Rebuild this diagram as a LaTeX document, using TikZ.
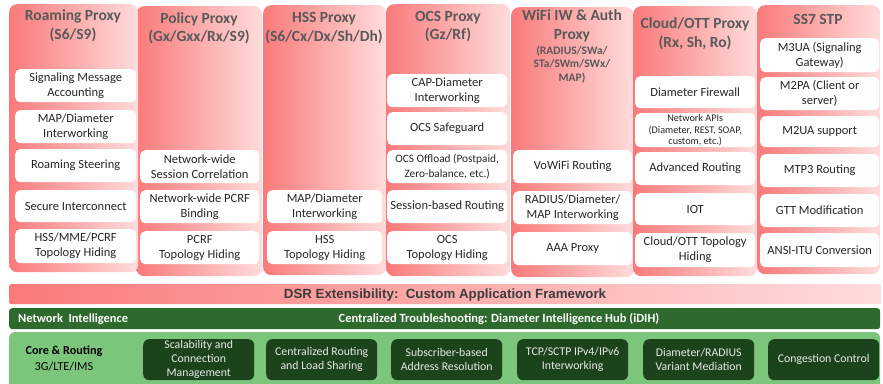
\documentclass[tikz,border=0pt]{standalone}
\usepackage{fontspec}
\setmainfont{Carlito}
\newfontfamily\arialfont{Liberation Sans}
\definecolor{colL}{RGB}{250,122,122}
\definecolor{colR}{RGB}{255,220,220}
\definecolor{titlegray}{RGB}{89,89,89}
\definecolor{boxtxt}{RGB}{38,38,38}
\definecolor{nigreen}{RGB}{46,106,46}
\definecolor{coregreen}{RGB}{124,198,124}
\definecolor{darkbox}{RGB}{28,68,28}
\definecolor{darkboxtxt}{RGB}{232,232,232}
\tikzset{
  colbox/.style={rounded corners=8pt, left color=colL, right color=colR, draw=none, inner sep=0pt, anchor=north west},
  wbox/.style={fill=white, draw=none, rounded corners=5pt, anchor=north west, align=center, inner sep=0pt,
    font=\fontsize{12.5}{15}\selectfont, text=boxtxt},
  ttl/.style={font=\bfseries\fontsize{15.5}{18.5}\selectfont, text=titlegray, align=center, inner sep=0pt},
  subttl/.style={font=\bfseries\fontsize{11.5}{13.5}\selectfont, text=titlegray, align=center, inner sep=0pt},
  dbox/.style={fill=darkbox, draw=none, rounded corners=6pt, anchor=north west, align=center, inner sep=0pt,
    minimum width=111pt, minimum height=41pt, font=\fontsize{11.8}{14}\selectfont, text=darkboxtxt},
}
\newcommand\colnode[5]{\node[colbox, minimum width=#4pt, minimum height=#5pt] (#1) at (#2,#3) {};}
\newcommand\wnode[6]{\node[wbox, minimum width=#4pt, minimum height=#5pt] (#1) at (#2,#3) {#6};}
\begin{document}
\begin{tikzpicture}[x=1pt,y=-1pt]
\useasboundingbox (0,0) rectangle (883,383);
% columns
\colnode{c2}{136}{6}{126}{270}
\colnode{c1}{9}{4}{129}{268}
\colnode{c3}{263}{5}{123}{270}
\colnode{c4}{386}{4}{124}{272}
\colnode{c5}{511}{7}{123}{270}
\colnode{c6}{633}{6}{124}{270}
\colnode{c7}{757}{5}{123}{269}
% titles
\node[ttl] (t1) at (73,25.5) {Roaming Proxy\\(S6/S9)};
\node[ttl] (t2) at (199,28) {Policy Proxy\\(Gx/Gxx/Rx/S9)};
\node[ttl] (t3) at (324,28) {HSS Proxy\\(S6/Cx/Dx/Sh/Dh)};
\node[ttl] (t4) at (448,26.5) {OCS Proxy\\(Gz/Rf)};
\node[ttl] (t5) at (572,26) {WiFi IW \& Auth\\Proxy};
\node[subttl] (t5b) at (572,64.5) {(RADIUS/SWa/\\STa/SWm/SWx/\\MAP)};
\node[ttl] (t6) at (695,33.5) {Cloud/OTT Proxy\\(Rx, Sh, Ro)};
\node[ttl] (t7) at (818,19) {SS7 STP};
% column 1
\wnode{a1}{15}{69}{121}{33}{Signaling Message\\Accounting}
\wnode{a2}{15}{110}{121}{33}{MAP/Diameter\\Interworking}
\wnode{a3}{15}{149}{121}{33}{Roaming Steering}
\wnode{a4}{15}{190}{121}{32}{Secure Interconnect}
\wnode{a5}{15}{229}{121}{34}{HSS/MME/PCRF\\Topology Hiding}
% column 2
\wnode{b1}{140}{150}{119}{33}{Network-wide\\Session Correlation}
\wnode{b2}{140}{190}{119}{33}{Network-wide PCRF\\Binding}
\wnode{b3}{140}{231}{119}{33}{PCRF\\Topology Hiding}
% column 3
\wnode{cc1}{267}{190}{115}{33}{MAP/Diameter\\Interworking}
\wnode{cc2}{267}{231}{115}{33}{HSS\\Topology Hiding}
% column 4
\wnode{d1}{387}{74}{120}{33}{CAP-Diameter\\Interworking}
\wnode{d2}{387}{112}{120}{33}{OCS Safeguard}
\node[wbox, minimum width=120pt, minimum height=33pt, font=\fontsize{11.3}{14.5}\selectfont] (d3) at (387,150) {OCS Offload (Postpaid,\\Zero-balance, etc.)};
\wnode{d4}{387}{190}{120}{33}{Session-based Routing}
\wnode{d5}{387}{231}{120}{33}{OCS\\Topology Hiding}
% column 5
\wnode{e1}{513}{150}{119}{33}{VoWiFi Routing}
\wnode{e2}{513}{191}{119}{33}{RADIUS/Diameter/\\MAP Interworking}
\wnode{e3}{513}{232}{119}{33}{AAA Proxy}
% column 6
\wnode{f1}{635}{76}{120}{32}{Diameter Firewall}
\node[wbox, minimum width=120pt, minimum height=34pt, font=\fontsize{10.2}{11.5}\selectfont] (f2) at (635,113) {Network APIs\\(Diameter, REST, SOAP,\\custom, etc.)};
\wnode{f3}{635}{152}{120}{33}{Advanced Routing}
\wnode{f4}{635}{193}{120}{32}{IOT}
\wnode{f5}{635}{233}{120}{34}{Cloud/OTT Topology\\Hiding}
% column 7
\wnode{g1}{760}{38}{119}{34}{M3UA (Signaling\\Gateway)}
\wnode{g2}{760}{77}{119}{33}{M2PA (Client or\\server)}
\wnode{g3}{760}{116}{119}{31}{M2UA support}
\wnode{g4}{760}{154}{119}{33}{MTP3 Routing}
\wnode{g5}{760}{194}{119}{33}{GTT Modification}
\wnode{g6}{760}{233}{119}{34}{ANSI-ITU Conversion}
% DSR band
\node[anchor=north west, inner sep=0pt, minimum width=872pt, minimum height=20pt, left color=colL, right color=colR, rounded corners=2pt] (dsr) at (9,284) {};
\node[font=\arialfont\bfseries\fontsize{13.3}{15}\selectfont, text=boxtxt!90!white] (dsrt) at (445,295) {DSR Extensibility:\ \ Custom Application Framework};
% Network intelligence band
\node[anchor=north west, inner sep=0pt, minimum width=871pt, minimum height=21pt, fill=nigreen, rounded corners=3pt] (ni) at (9,308) {};
\node[anchor=west, inner sep=0pt, font=\bfseries\fontsize{12.4}{14}\selectfont, text=white] (nit) at (18,319) {Network\ \ Intelligence};
\node[inner sep=0pt, font=\bfseries\fontsize{12.5}{14}\selectfont, text=white] (nit2) at (499,318.5) {Centralized Troubleshooting: Diameter Intelligence Hub (iDIH)};
% Core band
\fill[coregreen, rounded corners=6pt] (9,390) -- (9,332) -- (880,332) -- (880,390) -- cycle;
\node[inner sep=0pt, align=center, font=\fontsize{12.2}{16}\selectfont, text=black] (coret) at (64,358) {\textbf{Core \& Routing}\\3G/LTE/IMS};
\node[dbox] (h1) at (143,339) {Scalability and\\Connection\\Management};
\node[dbox] (h2) at (266,339) {Centralized Routing\\and Load Sharing};
\node[dbox] (h3) at (391,339) {Subscriber-based\\Address Resolution};
\node[dbox] (h4) at (517,339) {TCP/SCTP IPv4/IPv6\\Interworking};
\node[dbox] (h5) at (643,339) {Diameter/RADIUS\\Variant Mediation};
\node[dbox] (h6) at (768,339) {Congestion Control};
\end{tikzpicture}
\end{document}
